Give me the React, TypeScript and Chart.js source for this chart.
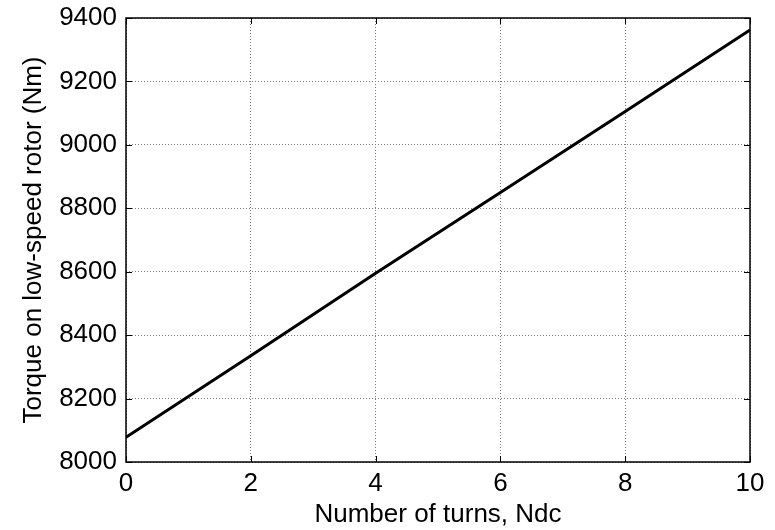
import React, { useEffect, useRef } from "react";
import { Chart, registerables } from "chart.js";

Chart.register(...registerables);

const turns = [0, 2, 4, 6, 8, 10];
const torque = [8078, 8335, 8595, 8850, 9105, 9362];
const xTicks = [0, 2, 4, 6, 8, 10];
const yTicks = [8000, 8200, 8400, 8600, 8800, 9000, 9200, 9400];
const xTitle = "Number of turns, Ndc";
const yTitle = "Torque on low-speed rotor (Nm)";

const FONT = "'Liberation Sans', Arial, sans-serif";

const framePlugin = {
  id: "frameTicks",
  afterDraw(chart: any) {
    const { ctx, chartArea } = chart;
    const { left, right, top, bottom } = chartArea;
    const xs = chart.scales.x;
    const ys = chart.scales.y;
    const len = 6;
    ctx.save();
    ctx.strokeStyle = "#000";
    ctx.lineWidth = 1;
    ctx.beginPath();
    xTicks.forEach((v) => {
      const px = Math.round(xs.getPixelForValue(v)) + 0.5;
      ctx.moveTo(px, bottom);
      ctx.lineTo(px, bottom - len);
      ctx.moveTo(px, top);
      ctx.lineTo(px, top + len);
    });
    yTicks.forEach((v) => {
      const py = Math.round(ys.getPixelForValue(v)) + 0.5;
      ctx.moveTo(left, py);
      ctx.lineTo(left + len, py);
      ctx.moveTo(right, py);
      ctx.lineTo(right - len, py);
    });
    ctx.stroke();
    ctx.lineWidth = 1.5;
    ctx.strokeRect(left, top, right - left, bottom - top);
    ctx.restore();
  },
};

export default function App() {
  const ref = useRef<HTMLCanvasElement | null>(null);
  useEffect(() => {
    if (!ref.current) return;
    const chart = new Chart(ref.current, {
      type: "line",
      data: {
        datasets: [
          {
            data: turns.map((t, i) => ({ x: t, y: torque[i] })),
            borderColor: "#000",
            borderWidth: 3,
            pointRadius: 0,
            tension: 0,
            fill: false,
          },
        ],
      },
      options: {
        animation: false,
        responsive: false,
        maintainAspectRatio: false,
        layout: { padding: { top: 18, right: 25, left: 0, bottom: 0 } },
        plugins: { legend: { display: false }, tooltip: { enabled: false } },
        scales: {
          x: {
            type: "linear",
            min: 0,
            max: 10,
            afterFit: (s: any) => {
              s.height = 68;
              s.paddingLeft = 0;
              s.paddingRight = 0;
            },
            afterBuildTicks: (s: any) => {
              s.ticks = xTicks.map((v) => ({ value: v }));
            },
            ticks: {
              color: "#000",
              font: { family: FONT, size: 26 },
              padding: 6,
              maxRotation: 0,
              autoSkip: false,
              callback: (v: any) => String(v),
            },
            grid: { color: "#7a7a7a", lineWidth: 1, drawTicks: false },
            border: { display: false, dash: [1, 2] },
            title: {
              display: true,
              text: xTitle,
              color: "#000",
              font: { family: FONT, size: 26 },
              padding: { top: 6, bottom: 0 },
            },
          },
          y: {
            type: "linear",
            min: 8000,
            max: 9400,
            afterFit: (s: any) => {
              s.width = 126;
              s.paddingTop = 0;
              s.paddingBottom = 0;
            },
            afterBuildTicks: (s: any) => {
              s.ticks = yTicks.map((v) => ({ value: v }));
            },
            ticks: {
              color: "#000",
              font: { family: FONT, size: 26 },
              padding: 9,
              autoSkip: false,
              callback: (v: any) => String(v),
            },
            grid: { color: "#7a7a7a", lineWidth: 1, drawTicks: false },
            border: { display: false, dash: [1, 2] },
            title: {
              display: true,
              text: yTitle,
              color: "#000",
              font: { family: FONT, size: 26 },
              padding: { top: 18, bottom: 0 },
            },
          },
        },
      },
      plugins: [framePlugin],
    });
    return () => chart.destroy();
  }, []);
  return (
    <div style={{ position: "fixed", left: 0, top: 0, width: 775, height: 530, background: "#fff" }}>
      <canvas ref={ref} width={775} height={530} style={{ width: 775, height: 530 }} />
    </div>
  );
}
